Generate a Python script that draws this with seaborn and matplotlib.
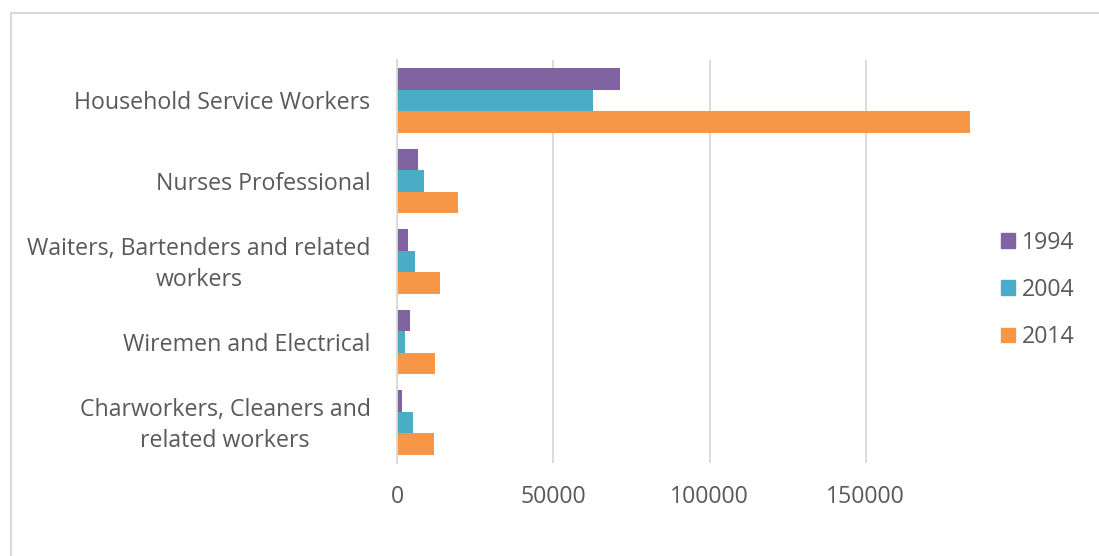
import matplotlib
matplotlib.use("Agg")
import matplotlib.pyplot as plt
from matplotlib.patches import Rectangle
from matplotlib.transforms import ScaledTranslation
import pandas as pd
import seaborn as sns

categories = [
    "Household Service Workers",
    "Nurses Professional",
    "Waiters, Bartenders and related\nworkers",
    "Wiremen and Electrical",
    "Charworkers, Cleaners and\nrelated workers",
]
years = ["1994", "2004", "2014"]
values_1994 = [71300, 6600, 3400, 4200, 1600]
values_2004 = [62800, 8500, 5800, 2400, 5000]
values_2014 = [183400, 19600, 13800, 12000, 11700]
x_ticks = [0, 50000, 100000, 150000]
colors = ["#8064A2", "#4BACC6", "#F79646"]

rows = []
for yr, vals in zip(years, [values_1994, values_2004, values_2014]):
    for cat, v in zip(categories, vals):
        rows.append({"category": cat, "year": yr, "value": v})
df = pd.DataFrame(rows)

sns.set_theme(style="white")
plt.rcParams["font.family"] = ["Open Sans", "DejaVu Sans"]
text_color = "#595959"
grid_color = "#D9D9D9"
fs = 16.7

W, H = 1099, 556
fig = plt.figure(figsize=(W / 100, H / 100), dpi=100)
ax = fig.add_axes([397 / W, 1 - 463 / H, (972 - 397) / W, (463 - 60) / H])

sns.barplot(data=df, x="value", y="category", hue="year", order=categories,
            hue_order=years, palette=colors, orient="h", width=0.8,
            saturation=1, linewidth=0, ax=ax)

ax.set_xlim(0, 184000)
ax.set_xticks(x_ticks)
ax.set_xticklabels([str(t) for t in x_ticks])
ax.set_xlabel("")
ax.set_ylabel("")
ax.xaxis.grid(True, color=grid_color, linewidth=1.3)
ax.set_axisbelow(True)
for side in ["top", "right", "bottom"]:
    ax.spines[side].set_visible(False)
ax.spines["left"].set_color(grid_color)
ax.spines["left"].set_linewidth(1.3)
ax.tick_params(axis="x", length=0, pad=15.5, labelsize=fs, labelcolor=text_color)
ax.tick_params(axis="y", length=0, pad=19, labelsize=fs, labelcolor=text_color)

# two-line category labels: centred lines, nudged up slightly
lift = ScaledTranslation(0, 4 / 100, fig.dpi_scale_trans)
for lbl in ax.get_yticklabels():
    lbl.set_multialignment("center")
    lbl.set_linespacing(1.4)
    if "\n" in lbl.get_text():
        lbl.set_transform(lbl.get_transform() + lift)

leg = ax.get_legend()
if leg is not None:
    leg.remove()
handles = [Rectangle((0, 0), 1, 1, color=c) for c in colors]
fig.legend(handles, years, loc="center left",
           bbox_to_anchor=(1001 / W, 1 - 290 / H), frameon=False,
           fontsize=fs, labelcolor=text_color, handlelength=0.6,
           handleheight=0.6, handletextpad=0.3, labelspacing=1.0,
           borderpad=0, borderaxespad=0)

# outer chart frame
fig.patches.append(Rectangle((11 / W, -0.1), 1.2, 1 - 13 / H + 0.1,
                             transform=fig.transFigure, fill=False,
                             edgecolor=grid_color, linewidth=1.5))

fig.savefig("out.png", dpi=100)
